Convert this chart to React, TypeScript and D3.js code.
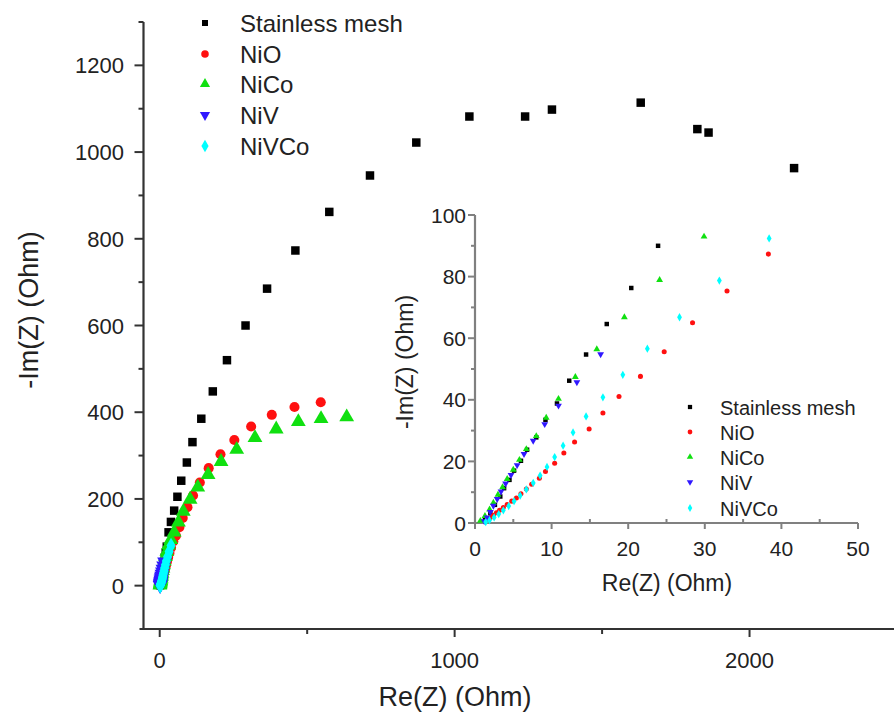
import React from "react";
import * as d3 from "d3";

// ---- data: [Re(Z), -Im(Z)] in Ohm ----
const stainlessMesh: [number, number][] = [
  [1.3, 1.0], [2.0, 3.2], [2.6, 5.9], [3.3, 8.6], [3.8, 11.3], [4.5, 14.0], [5.1, 17.0],
  [6.0, 20.2], [6.8, 23.8], [8.0, 27.8], [9.2, 33.5], [10.7, 38.8], [12.3, 46.2],
  [14.5, 54.7], [17.2, 64.6], [20.4, 76.3], [23.9, 90.0], [30, 123], [38, 147], [49, 173],
  [60, 205], [73, 242], [92, 284], [111, 331], [141, 385], [180, 448], [228, 520],
  [291, 600], [364, 685], [460, 773], [575, 862], [713, 946], [870, 1022], [1050, 1082],
  [1239, 1082], [1330, 1098], [1631, 1114], [1823, 1053], [1861, 1045], [2151, 963],
];
const nio: [number, number][] = [
  [1.6, 1.0], [2.0, 1.8], [2.4, 2.5], [2.8, 3.3], [3.2, 4.1], [3.7, 5.0], [4.2, 6.0],
  [4.8, 7.1], [5.4, 8.1], [6.0, 9.5], [6.7, 11.0], [7.4, 12.6], [8.4, 14.5], [9.2, 16.7],
  [10.4, 19.4], [11.6, 22.7], [13.0, 26.3], [14.9, 30.5], [16.7, 35.7], [18.8, 41.1],
  [21.6, 47.6], [24.7, 55.6], [28.4, 65.0], [32.9, 75.3], [38.3, 87.3], [46, 102],
  [55, 115], [67, 135], [78, 156], [94, 181], [113, 208], [136, 238], [166, 271],
  [206, 303], [253, 336], [310, 367], [380, 394], [457, 412], [546, 423],
];
const nico: [number, number][] = [
  [0.7, 0.7], [1.3, 2.3], [1.9, 4.4], [2.4, 6.6], [3.0, 9.2], [3.6, 11.6], [4.2, 14.3],
  [5.0, 17.3], [5.8, 20.5], [6.7, 24.0], [8.0, 28.2], [9.3, 34.2], [10.9, 40.3],
  [13.1, 47.4], [15.9, 56.4], [19.5, 66.8], [24.1, 78.9], [29.9, 93.0], [37.5, 106],
  [49, 123], [63.5, 146], [80, 171], [103, 199], [129, 227], [164, 256], [208, 286],
  [261, 314], [323, 341], [395, 361], [470, 378], [547, 385], [634, 389],
];
const niv: [number, number][] = [
  [1.2, 0.6], [1.6, 1.8], [2.0, 3.6], [2.4, 5.6], [2.9, 7.8], [3.4, 10.2], [4.0, 12.8],
  [4.7, 15.6], [5.5, 18.8], [6.4, 22.4], [7.6, 26.7], [9.1, 32.1], [10.9, 38.1],
  [13.3, 45.7], [16.4, 54.8],
];
const nivco: [number, number][] = [
  [1.4, 0.3], [1.9, 0.9], [2.5, 1.8], [3.1, 2.9], [3.7, 4.1], [4.4, 5.5], [5.1, 7.1],
  [5.9, 8.9], [6.7, 10.9], [7.6, 13.0], [8.5, 15.4], [9.4, 18.2], [10.4, 21.4],
  [11.5, 25.1], [12.8, 29.4], [14.5, 34.6], [16.7, 40.8], [19.3, 48.1], [22.5, 56.6],
  [26.7, 66.8], [31.9, 78.7], [38.4, 92.4],
];

const seriesNames = ["Stainless mesh", "NiO", "NiCo", "NiV", "NiVCo"];
const seriesData = [stainlessMesh, nio, nico, niv, nivco];
const seriesColors = ["#000000", "#ff1010", "#10e010", "#3018ff", "#00ffff"];
const seriesSymbols = [d3.symbolSquare, d3.symbolCircle, d3.symbolTriangle, "down", d3.symbolDiamond];

const mainXTicks = [0, 1000, 2000];
const mainXMinor = [500, 1500];
const mainYTicks = [0, 200, 400, 600, 800, 1000, 1200];
const mainYMinor = [100, 300, 500, 700, 900, 1100, 1300];
const insetXTicks = [0, 10, 20, 30, 40, 50];
const insetXMinor = [5, 15, 25, 35, 45];
const insetYTicks = [0, 20, 40, 60, 80, 100];
const insetYMinor = [10, 30, 50, 70, 90];

const FONT = "'Liberation Sans', Arial, sans-serif";

function Marker({ sym, x, y, size, color }: any) {
  const isDown = sym === "down";
  const s = isDown ? d3.symbolTriangle : sym;
  const path = d3.symbol().type(s).size(size)() as string;
  return (
    <path
      d={path}
      transform={`translate(${x},${y})${isDown ? " rotate(180)" : ""}`}
      fill={color}
    />
  );
}

export default function App() {
  const x = d3.scaleLinear().domain([-55, 2500]).range([143.5, 897]);
  const y = d3.scaleLinear().domain([-100, 1300]).range([629, 22]);
  const ix = d3.scaleLinear().domain([0, 50]).range([475, 858]);
  const iy = d3.scaleLinear().domain([0, 100]).range([523, 215]);

  const mainSizes = [72, 80, 95, 95, 72];
  const axisColor = "#333";
  const insetAxis = "#808080";

  return (
    <svg
      width={894}
      height={719}
      style={{ position: "absolute", left: 0, top: 0, background: "#fff" }}
      fontFamily={FONT}
    >
      <rect width={894} height={719} fill="#fff" />
      {/* main axes */}
      <line x1={x.range()[0] - 4} x2={894} y1={y(-100)} y2={y(-100)} stroke={axisColor} strokeWidth={2.2} />
      <line x1={x(-55)} x2={x(-55)} y1={y(1300)} y2={y(-100) + 1} stroke={axisColor} strokeWidth={2.2} />
      {mainXTicks.map((t) => (
        <g key={"mx" + t}>
          <line x1={x(t)} x2={x(t)} y1={y(-100)} y2={y(-100) + 8} stroke={axisColor} strokeWidth={2} />
          <text x={x(t)} y={668} textAnchor="middle" fontSize={22} fill="#222">{t}</text>
        </g>
      ))}
      {mainXMinor.map((t) => (
        <line key={"mxm" + t} x1={x(t)} x2={x(t)} y1={y(-100)} y2={y(-100) + 5} stroke={axisColor} strokeWidth={2} />
      ))}
      {mainYTicks.map((t) => (
        <g key={"my" + t}>
          <line x1={x(-55) - 9} x2={x(-55)} y1={y(t)} y2={y(t)} stroke={axisColor} strokeWidth={2} />
          <text x={124} y={y(t) + 8} textAnchor="end" fontSize={22} fill="#222">{t}</text>
        </g>
      ))}
      {mainYMinor.map((t) => (
        <line key={"mym" + t} x1={x(-55) - 5} x2={x(-55)} y1={y(t)} y2={y(t)} stroke={axisColor} strokeWidth={2} />
      ))}
      <text x={455} y={706} textAnchor="middle" fontSize={27} fill="#222">Re(Z) (Ohm)</text>
      <text transform="translate(38,310) rotate(-90)" textAnchor="middle" fontSize={27} fill="#222">-Im(Z) (Ohm)</text>

      {/* main data */}
      {seriesData.map((data, si) =>
        data.map((d, i) => (
          <Marker key={`m${si}-${i}`} sym={seriesSymbols[si]} x={x(d[0])} y={y(d[1])} size={mainSizes[si]} color={seriesColors[si]} />
        ))
      )}

      {/* main legend */}
      {seriesNames.map((n, i) => {
        const ly = [23, 54, 84, 115, 146][i];
        return (
          <g key={"lg" + i}>
            <Marker sym={seriesSymbols[i]} x={205} y={ly} size={[36, 45, 45, 45, 45][i]} color={seriesColors[i]} />
            <text x={240} y={ly + 8.5} fontSize={24} fill="#222">{n}</text>
          </g>
        );
      })}

      {/* inset axes */}
      <line x1={ix(0) - 1} x2={ix(50)} y1={iy(0)} y2={iy(0)} stroke={insetAxis} strokeWidth={2.2} />
      <line x1={ix(0)} x2={ix(0)} y1={iy(100)} y2={iy(0)} stroke={insetAxis} strokeWidth={2.2} />
      {insetXTicks.map((t) => (
        <g key={"ix" + t}>
          <line x1={ix(t)} x2={ix(t)} y1={iy(0)} y2={iy(0) + 6} stroke={insetAxis} strokeWidth={2} />
          <text x={ix(t)} y={556} textAnchor="middle" fontSize={21} fill="#222">{t}</text>
        </g>
      ))}
      {insetXMinor.map((t) => (
        <line key={"ixm" + t} x1={ix(t)} x2={ix(t)} y1={iy(0)} y2={iy(0) - 4} stroke={insetAxis} strokeWidth={2} />
      ))}
      {insetYTicks.map((t) => (
        <g key={"iy" + t}>
          <line x1={ix(0) - 7} x2={ix(0)} y1={iy(t)} y2={iy(t)} stroke={insetAxis} strokeWidth={2} />
          <text x={466} y={iy(t) + 7.5} textAnchor="end" fontSize={21} fill="#222">{t}</text>
        </g>
      ))}
      {insetYMinor.map((t) => (
        <line key={"iym" + t} x1={ix(0) - 4} x2={ix(0)} y1={iy(t)} y2={iy(t)} stroke={insetAxis} strokeWidth={2} />
      ))}
      <text x={667} y={591} textAnchor="middle" fontSize={23} fill="#222">Re(Z) (Ohm)</text>
      <text transform="translate(413,362) rotate(-90)" textAnchor="middle" fontSize={23} fill="#222">-Im(Z) (Ohm)</text>

      {/* inset data */}
      {seriesData.map((data, si) =>
        data
          .filter((d) => d[0] >= 0 && d[0] <= 50 && d[1] >= 0 && d[1] <= 100)
          .map((d, i) => (
            <Marker key={`i${si}-${i}`} sym={seriesSymbols[si]} x={ix(d[0])} y={iy(d[1])} size={20} color={seriesColors[si]} />
          ))
      )}

      {/* inset legend */}
      {seriesNames.map((n, i) => {
        const ly = [407, 432, 457, 482, 508][i];
        return (
          <g key={"ilg" + i}>
            <Marker sym={seriesSymbols[i]} x={690} y={ly} size={18} color={seriesColors[i]} />
            <text x={720} y={ly + 7.5} fontSize={20} fill="#222">{n}</text>
          </g>
        );
      })}
    </svg>
  );
}
